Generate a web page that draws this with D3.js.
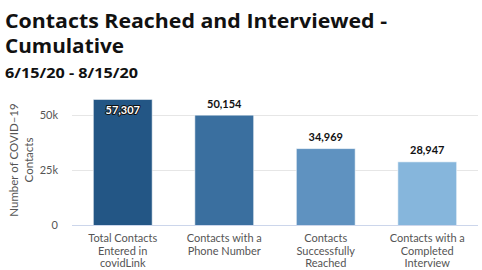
<!DOCTYPE html>
<html>
<head>
<meta charset="utf-8">
<script src="https://cdn.jsdelivr.net/npm/d3@7"></script>
<style>
  body { margin: 0; background: #fff; }
  svg { font-family: "Lato", "Open Sans", sans-serif; }
  .ttl { font-family: "Open Sans", sans-serif; }
</style>
</head>
<body>
<svg id="chart" width="482" height="270"></svg>
<script>
// chart data
const categories = [
  ["Total Contacts", "Entered in", "covidLink"],
  ["Contacts with a", "Phone Number"],
  ["Contacts", "Successfully", "Reached"],
  ["Contacts with a", "Completed", "Interview"]
];
const values = [57307, 50154, 34969, 28947];
const barColors = ["#235685", "#3a6f9f", "#5f92c0", "#86b6dc"];
const yTicks = [0, 25000, 50000];
const yTickLabels = ["0", "25k", "50k"];

const svg = d3.select("#chart");
const width = 482, height = 270;
const margin = {top: 90, right: 4, bottom: 45, left: 72};

// titles
svg.append("text").attr("class", "ttl")
  .attr("x", 5).attr("y", 28)
  .attr("font-size", "20px").attr("font-weight", "bold").attr("fill", "#111")
  .attr("textLength", 382).attr("lengthAdjust", "spacingAndGlyphs")
  .text("Contacts Reached and Interviewed -");
svg.append("text").attr("class", "ttl")
  .attr("x", 5).attr("y", 53)
  .attr("font-size", "20px").attr("font-weight", "bold").attr("fill", "#111")
  .attr("textLength", 119).attr("lengthAdjust", "spacingAndGlyphs")
  .text("Cumulative");
svg.append("text").attr("class", "ttl")
  .attr("x", 5).attr("y", 78)
  .attr("font-size", "14px").attr("font-weight", "bold").attr("fill", "#111")
  .attr("textLength", 133).attr("lengthAdjust", "spacingAndGlyphs")
  .text("6/15/20 - 8/15/20");

const x = d3.scaleBand()
  .domain(d3.range(values.length))
  .range([margin.left, width - margin.right])
  .paddingInner(0.41).paddingOuter(0.205);

const y = d3.scaleLinear()
  .domain([0, 60000])
  .range([height - margin.bottom, height - margin.bottom - 132]);

// grid
svg.append("g").selectAll("line")
  .data(yTicks.filter(d => d > 0))
  .join("line")
  .attr("x1", margin.left).attr("x2", width - margin.right)
  .attr("y1", d => Math.round(y(d)) + 0.5).attr("y2", d => Math.round(y(d)) + 0.5)
  .attr("stroke", "#e6e6e6");

// y tick labels
svg.append("g").selectAll("text")
  .data(yTicks)
  .join("text")
  .attr("x", 58).attr("y", d => y(d) + 4)
  .attr("text-anchor", "end")
  .attr("font-size", "11px").attr("fill", "#555")
  .text((d, i) => yTickLabels[i]);

// y axis title
const yt = svg.append("text")
  .attr("transform", "translate(0,160) rotate(-90)")
  .attr("text-anchor", "middle")
  .attr("font-size", "11.5px").attr("fill", "#555");
yt.append("tspan").attr("x", 0).attr("y", 18).text("Number of COVID\u201319");
yt.append("tspan").attr("x", 0).attr("y", 33).text("Contacts");

// bars
svg.append("g").selectAll("rect")
  .data(values)
  .join("rect")
  .attr("x", (d, i) => x(i) + 0.5)
  .attr("y", d => y(d) + 0.5)
  .attr("width", x.bandwidth() - 1)
  .attr("height", d => y(0) - y(d))
  .attr("fill", (d, i) => barColors[i])
  .attr("stroke", "#fff").attr("stroke-opacity", 0.6);

// zero line
svg.append("line")
  .attr("x1", margin.left).attr("x2", width - margin.right)
  .attr("y1", Math.round(y(0)) + 0.5).attr("y2", Math.round(y(0)) + 0.5)
  .attr("stroke", "#ccd6eb");

// value labels
const fmt = d3.format(",");
svg.append("g").selectAll("text")
  .data(values)
  .join("text")
  .attr("x", (d, i) => x(i) + x.bandwidth() / 2)
  .attr("y", (d, i) => i === 0 ? y(d) + 15 : y(d) - 7)
  .attr("text-anchor", "middle")
  .attr("font-size", "11px").attr("font-weight", "bold")
  .attr("fill", (d, i) => i === 0 ? "#fff" : "#111")
  .attr("stroke", (d, i) => i === 0 ? "#111" : "#fff")
  .attr("stroke-width", 2).attr("paint-order", "stroke")
  .attr("stroke-linejoin", "round")
  .text(d => fmt(d));

// x category labels
const xl = svg.append("g").selectAll("text")
  .data(categories)
  .join("text")
  .attr("text-anchor", "middle")
  .attr("font-size", "11px").attr("fill", "#555");
xl.each(function(lines, i) {
  const t = d3.select(this);
  lines.forEach((ln, j) => {
    t.append("tspan")
      .attr("x", x(i) + x.bandwidth() / 2)
      .attr("y", 242 + j * 12.5)
      .text(ln);
  });
});
</script>
</body>
</html>
